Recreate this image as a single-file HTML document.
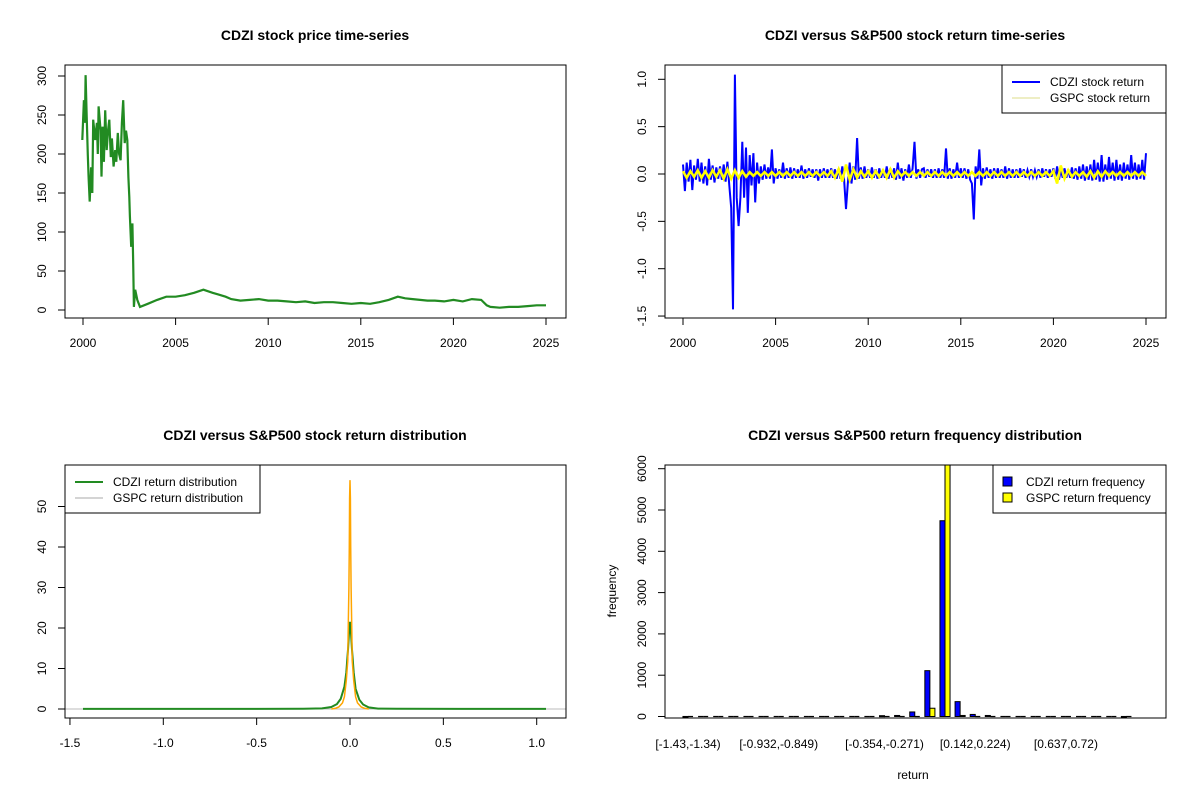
<!DOCTYPE html>
<html><head><meta charset="utf-8"><style>
body{margin:0;background:#fff}
svg text{font-family:"Liberation Sans",Arial,sans-serif;fill:#000}
</style></head><body>
<svg id="c" width="1200" height="800" xmlns="http://www.w3.org/2000/svg"></svg>
<script>
// ---------- data ----------
const priceYears=[1999.96,2000.05,2000.1,2000.14,2000.2,2000.26,2000.3,2000.36,2000.44,2000.5,2000.55,2000.66,2000.75,2000.8,2000.84,2000.95,2001.0,2001.06,2001.13,2001.2,2001.28,2001.35,2001.42,2001.5,2001.56,2001.65,2001.74,2001.8,2001.88,2001.95,2002.03,2002.1,2002.17,2002.25,2002.32,2002.39,2002.45,2002.5,2002.53,2002.6,2002.67,2002.71,2002.75,2002.82,2002.93,2003.08,2003.5,2004.0,2004.5,2005.0,2005.5,2006.0,2006.5,2007.0,2007.3,2007.7,2008.0,2008.5,2009.0,2009.5,2010.0,2010.5,2011.0,2011.5,2012.0,2012.5,2013.0,2013.5,2014.0,2014.5,2015.0,2015.5,2016.0,2016.5,2017.0,2017.4,2017.8,2018.2,2018.6,2019.0,2019.5,2020.0,2020.5,2021.0,2021.5,2021.8,2022.0,2022.5,2023.0,2023.5,2024.0,2024.5,2025.0];
const priceValues=[218,269,240,301,248,199,170,139,183,150,244,218,240,200,261,230,171,235,190,256,205,230,244,196,220,184,205,190,227,200,192,240,269,214,230,218,170,145,120,81,111,60,4,26,13,4,8,13,17,17,19,22,26,22,20,17,14,12,13,14,12,12,11,10,11,9,10,10,9,8,9,8,10,13,17,15,14,13,12,12,11,13,11,14,13,6,4,3,4,4,5,6,6];
const cdziStart=2000, cdziStep=0.1;
const cdziRet=[.10,-.18,.12,-.08,.15,-.17,.09,-.06,.16,-.08,
.12,-.10,.08,-.12,.16,-.06,.09,-.09,.07,-.05,
.08,-.06,.10,-.08,.13,-.12,-.36,-1.43,1.05,-.25,
-.55,-.25,.34,-.25,.28,-.41,.2,-.12,.22,-.3,
.12,-.1,.08,-.06,.1,-.05,.07,-.05,.26,-.1,
.06,-.05,.05,-.04,.12,-.05,.06,-.04,.07,-.05,
.06,-.04,.05,-.04,.09,-.05,.05,-.04,.06,-.03,
.05,-.04,.05,-.07,.05,-.04,.06,-.04,.05,-.04,
.06,-.04,.05,-.05,.06,-.05,.08,-.06,-.37,-.1,
.12,-.1,.08,-.06,.38,-.05,.07,-.05,.08,-.04,
.05,-.04,.07,-.04,.05,-.05,.06,-.04,.05,-.04,
.08,-.05,.06,-.04,.06,-.06,.12,-.05,.06,-.07,
.05,-.04,.1,-.04,.06,.34,-.05,.05,-.04,.05,
.06,-.04,.05,-.03,.05,-.04,.05,-.04,.06,-.04,
.05,-.04,.27,-.05,.06,-.05,.05,-.04,.12,-.04,
.06,-.04,.06,-.05,.05,-.06,-.1,-.48,.08,-.05,
.26,-.12,.06,-.05,.07,-.04,.05,-.05,.06,-.04,
.06,-.04,.05,-.04,.08,-.05,.06,-.04,.05,-.04,
.05,-.04,.06,-.03,.05,-.04,.04,-.03,.05,-.03,
.04,-.03,.05,-.04,.06,-.03,.05,-.04,.05,-.03,
.06,-.05,.08,-.06,.05,-.04,.06,-.04,.05,-.04,
.07,-.05,.06,-.06,.08,-.05,.1,-.07,.08,-.06,
.1,-.07,.15,-.06,.12,-.08,.2,-.08,.1,-.06,
.18,-.05,.12,-.07,.15,-.06,.1,-.07,.12,-.05,
.1,-.06,.2,-.05,.12,-.06,.1,-.05,.15,-.06,
.22];
const gspcStart=2000, gspcStep=0.2;
const gspcRet=[.03,-.04,.03,-.03,.04,
-.04,.03,-.04,.04,-.03,
.04,-.05,.05,-.05,.04,
-.04,.03,-.03,.02,-.02,
.02,-.02,.02,-.02,.02,-.02,.02,-.02,.02,-.02,
.02,-.02,.02,-.02,.02,-.02,.02,-.02,.02,-.02,
.03,-.04,.05,-.08,.1,
-.06,.05,-.04,.03,-.03,
.03,-.04,.03,-.03,.04,
-.04,.05,-.04,.03,-.02,
.02,-.02,.02,-.02,.02,-.02,.02,-.02,.02,-.02,
.02,-.02,.02,-.02,.02,-.02,.02,-.02,.02,-.02,
.02,-.02,.02,-.02,.02,-.02,.02,-.02,.02,-.02,
.02,-.02,.02,-.02,.02,-.02,.02,-.02,.02,-.02,
.03,-.1,.09,-.05,.04,
-.03,.02,-.02,.02,-.03,
.03,-.04,.03,-.03,.03,
-.02,.02,-.02,.02,-.02,
.02,-.02,.02,-.02,.02,
-.02];
const densX=[-1.43,-0.5,-0.25,-0.15,-0.1,-0.07,-0.05,-0.03,-0.02,-0.01,-0.004,0,0.004,0.01,0.02,0.03,0.05,0.07,0.1,0.15,0.25,0.6,1.05];
const cdziDens=[0.02,0.03,0.05,0.15,0.5,1.2,2.5,5.5,9,15,20,21.5,20,15,9,5,2.3,1.1,0.4,0.1,0.05,0.03,0.02];
const gspcDensX=[-0.1,-0.08,-0.06,-0.04,-0.03,-0.02,-0.015,-0.012,-0.01,-0.008,-0.006,-0.004,-0.002,0,0.002,0.004,0.006,0.008,0.01,0.012,0.015,0.02,0.03,0.04,0.06,0.08,0.1];
const gspcDens=[0,0.15,0.5,1.5,3,7,10,12,18,24,30,40,52,56.5,52,40,30,24,18,12,10,7,3,1.5,0.5,0.15,0];
const binLabels=["[-1.43,-1.34)","[-0.932,-0.849)","[-0.354,-0.271)","[0.142,0.224)","[0.637,0.72)"];
const binLabelIdx=[0,6,13,19,25];
const cdziFreq=[1,0,0,0,0,0,0,0,0,0,0,0,0,20,25,110,1110,4740,360,50,25,0,0,0,0,0,0,0,0,1];
const gspcFreq=[0,0,0,0,0,0,0,0,0,0,0,0,0,0,0,0,200,6100,25,0,0,0,0,0,0,0,0,0,0,0];

// ---------- helpers ----------
const svg=document.getElementById('c');
const NS='http://www.w3.org/2000/svg';
function el(tag,attrs,parent){const e=document.createElementNS(NS,tag);for(const k in attrs)e.setAttribute(k,attrs[k]);(parent||svg).appendChild(e);return e;}
function txt(s,x,y,opts,parent){const t=el('text',Object.assign({x:x,y:y,'font-size':12,'text-anchor':'middle'},opts||{}),parent);t.textContent=s;return t;}
function lin(d0,d1,r0,r1){return v=>r0+(v-d0)*(r1-r0)/(d1-d0);}
function box(x0,y0,x1,y1,name){const r=el('rect',{x:x0,y:y0,width:x1-x0,height:y1-y0,fill:'none',stroke:'#000','stroke-width':1});

}
function xAxis(ticks,sx,yb,name,lab){const g=el('g',{});


el('line',{x1:sx(ticks[0]),x2:sx(ticks[ticks.length-1]),y1:yb,y2:yb,stroke:'#000'},g);
ticks.forEach(t=>{el('line',{x1:sx(t),x2:sx(t),y1:yb,y2:yb+7,stroke:'#000'},g);txt(lab?lab(t):String(t),sx(t),yb+29,{},g);});}
function yAxis(ticks,sy,xl,name,lab){const g=el('g',{});


el('line',{x1:xl,x2:xl,y1:sy(ticks[0]),y2:sy(ticks[ticks.length-1]),stroke:'#000'},g);
ticks.forEach(t=>{const y=sy(t);el('line',{x1:xl,x2:xl-7,y1:y,y2:y,stroke:'#000'},g);const x=xl-19;txt(lab?lab(t):String(t),x,y,{transform:`rotate(-90 ${x} ${y})`},g);});}
function title(s,x,y,name){const t=txt(s,x,y,{'font-size':14,'font-weight':'bold'});

}
function path(pts){return pts.map((p,i)=>(i?'L':'M')+p[0].toFixed(1)+' '+p[1].toFixed(1)).join('');}

// ---------- panel 1: price ----------
{const sx=lin(2000,2025,83,546), sy=lin(0,300,310,76);
title('CDZI stock price time-series',315,40,'price-chart-title');
const p=el('path',{d:path(priceYears.map((y,i)=>[sx(y),sy(priceValues[i])])),fill:'none',stroke:'#228B22','stroke-width':2.2});


box(65,65,566,318,'price-plot-box');
xAxis([2000,2005,2010,2015,2020,2025],sx,318,'price-x-axis');
yAxis([0,50,100,150,200,250,300],sy,65,'price-y-axis');}

// ---------- panel 2: returns ----------
{const sx=lin(2000,2025,683,1146), sy=lin(0,1,174,79.3);
title('CDZI versus S&P500 stock return time-series',915,40,'return-chart-title');
const p=el('path',{d:path(cdziRet.map((v,i)=>[sx(cdziStart+i*cdziStep),sy(v)])),fill:'none',stroke:'#0000FF','stroke-width':2});


const q=el('path',{d:path(gspcRet.map((v,i)=>[sx(gspcStart+i*gspcStep),sy(v)])),fill:'none',stroke:'#FFFF00','stroke-width':2.5});


box(665,65,1166,318,'return-plot-box');
xAxis([2000,2005,2010,2015,2020,2025],sx,318,'return-x-axis');
yAxis([-1.5,-1,-0.5,0,0.5,1],sy,665,'return-y-axis',t=>t.toFixed(1));
const lg=el('g',{});


el('rect',{x:1002,y:65,width:164,height:48,fill:'#fff',stroke:'#000'},lg);
el('line',{x1:1012,x2:1040,y1:82,y2:82,stroke:'#0000FF','stroke-width':2},lg);
el('line',{x1:1012,x2:1040,y1:98,y2:98,stroke:'#dddd88','stroke-width':1},lg);
txt('CDZI stock return',1050,86,{'text-anchor':'start'},lg);
txt('GSPC stock return',1050,102,{'text-anchor':'start'},lg);}

// ---------- panel 3: density ----------
{const sx=lin(0,1,350,536.7), sy=lin(0,50,709,506.5);
title('CDZI versus S&P500 stock return distribution',315,440,'density-chart-title');
const g0=el('line',{x1:65,x2:566,y1:sy(0),y2:sy(0),stroke:'#bbbbbb'});


const p=el('path',{d:path(densX.map((x,i)=>[sx(x),sy(cdziDens[i])])),fill:'none',stroke:'#228B22','stroke-width':2});


const q=el('path',{d:path(gspcDensX.map((x,i)=>[sx(x),sy(gspcDens[i])])),fill:'none',stroke:'#FFA500','stroke-width':1.5});


box(65,465,566,718,'density-plot-box');
xAxis([-1.5,-1,-0.5,0,0.5,1],sx,718,'density-x-axis',t=>t.toFixed(1));
yAxis([0,10,20,30,40,50],sy,65,'density-y-axis');
const lg=el('g',{});


el('rect',{x:65,y:465,width:195,height:48,fill:'#fff',stroke:'#000'},lg);
el('line',{x1:75,x2:103,y1:482,y2:482,stroke:'#228B22','stroke-width':2},lg);
el('line',{x1:75,x2:103,y1:498,y2:498,stroke:'#aaaaaa','stroke-width':1},lg);
txt('CDZI return distribution',113,486,{'text-anchor':'start'},lg);
txt('GSPC return distribution',113,502,{'text-anchor':'start'},lg);}

// ---------- panel 4: histogram ----------
{const su=lin(2,53,688,945), sy=lin(0,1000,716.5,675.2);
title('CDZI versus S&P500 return frequency distribution',915,440,'histogram-chart-title');
const clip=el('clipPath',{id:'hc'});el('rect',{x:665,y:465,width:501,height:253},clip);
const g=el('g',{'clip-path':'url(#hc)'});


function bar(x0,x1,v,fill,name){
  if(v===0){const l=el('line',{x1:x0,x2:x1,y1:sy(0),y2:sy(0),stroke:'#000','stroke-width':1.2},g);
  
  return;}
  const r=el('rect',{x:x0,y:sy(v),width:x1-x0,height:Math.max(1,sy(0)-sy(v)),fill:fill,stroke:'#000','stroke-width':1},g);
  
  }
cdziFreq.forEach((v,i)=>{const l=i*3+1;
bar(su(l),su(l+1),v,'#0000FF','cdzi-bar');
bar(su(l+1),su(l+2),gspcFreq[i],'#FFFF00','gspc-bar');});
box(665,465,1166,718,'histogram-plot-box');
yAxis([0,1000,2000,3000,4000,5000,6000],sy,665,'histogram-y-axis');
binLabelIdx.forEach((b,k)=>{const t=txt(binLabels[k],su(b*3+2),748,{});

});
const xl=txt('return',913,779,{});


const yl=txt('frequency',616,591,{transform:'rotate(-90 616 591)'});


const lg=el('g',{});


el('rect',{x:993,y:465,width:173,height:48,fill:'#fff',stroke:'#000'},lg);
el('rect',{x:1003,y:477,width:9,height:9,fill:'#0000FF',stroke:'#000'},lg);
el('rect',{x:1003,y:493,width:9,height:9,fill:'#FFFF00',stroke:'#000'},lg);
txt('CDZI return frequency',1026,486,{'text-anchor':'start'},lg);
txt('GSPC return frequency',1026,502,{'text-anchor':'start'},lg);}
</script>
</body></html>
